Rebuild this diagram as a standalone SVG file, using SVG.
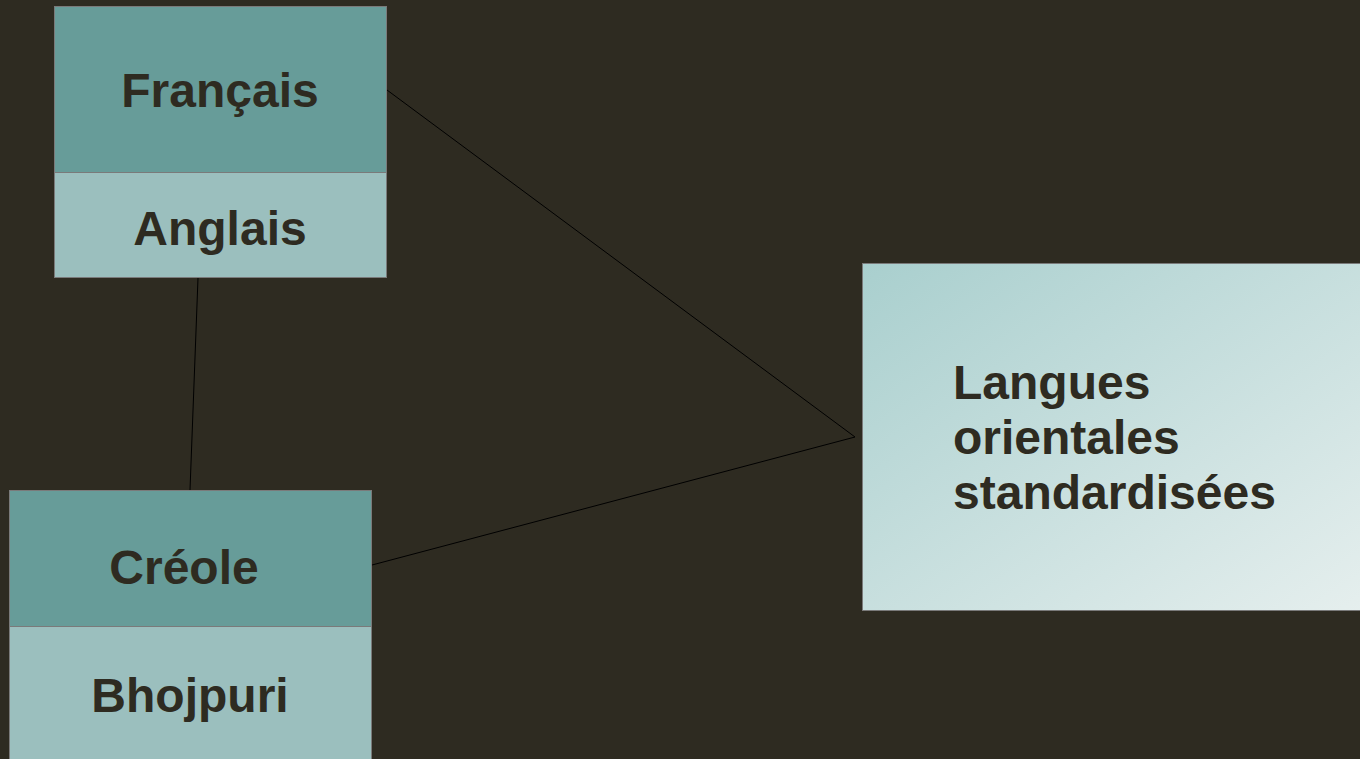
<svg xmlns="http://www.w3.org/2000/svg" width="1360" height="759" viewBox="0 0 1360 759">
<defs>
<linearGradient id="g3" x1="0" y1="0" x2="1" y2="1">
<stop offset="0" stop-color="#a9cfce"/>
<stop offset="1" stop-color="#e6efee"/>
</linearGradient>
</defs>
<style>
.dark{fill:#679c99;stroke:#7a7a7a;stroke-width:1}
.light{fill:#9bbfbe;stroke:#7a7a7a;stroke-width:1}
.t{font-family:"Liberation Sans",Arial,sans-serif;font-weight:bold;font-size:48px;fill:#2e2b21}
.c{text-anchor:middle}
.ln{fill:none;stroke:#000;stroke-width:1}
</style>
<rect width="1360" height="759" fill="#2e2b21"/>
<g id="connectors">
<polyline class="ln" points="387,90 855,437 372,565"/>
<line class="ln" x1="198" y1="278" x2="190" y2="490"/>
</g>
<g id="node-francais">
<rect class="dark" x="54.5" y="6.5" width="332" height="166"/>
<text class="t c" x="220" y="107">Français</text>
</g>
<g id="node-anglais">
<rect class="light" x="54.5" y="172.5" width="332" height="105"/>
<text class="t c" x="220" y="245">Anglais</text>
</g>
<g id="node-creole">
<rect class="dark" x="9.5" y="490.5" width="362" height="136"/>
<text class="t c" x="184" y="584">Créole</text>
</g>
<g id="node-bhojpuri">
<rect class="light" x="9.5" y="626.5" width="362" height="140"/>
<text class="t c" x="190" y="712">Bhojpuri</text>
</g>
<g id="node-langues">
<rect x="862.5" y="263.5" width="510" height="347" fill="url(#g3)" stroke="#7a7a7a" stroke-width="1"/>
<text class="t" x="953" y="399">Langues</text>
<text class="t" x="953" y="454">orientales</text>
<text class="t" x="953" y="509">standardisées</text>
</g>
</svg>
